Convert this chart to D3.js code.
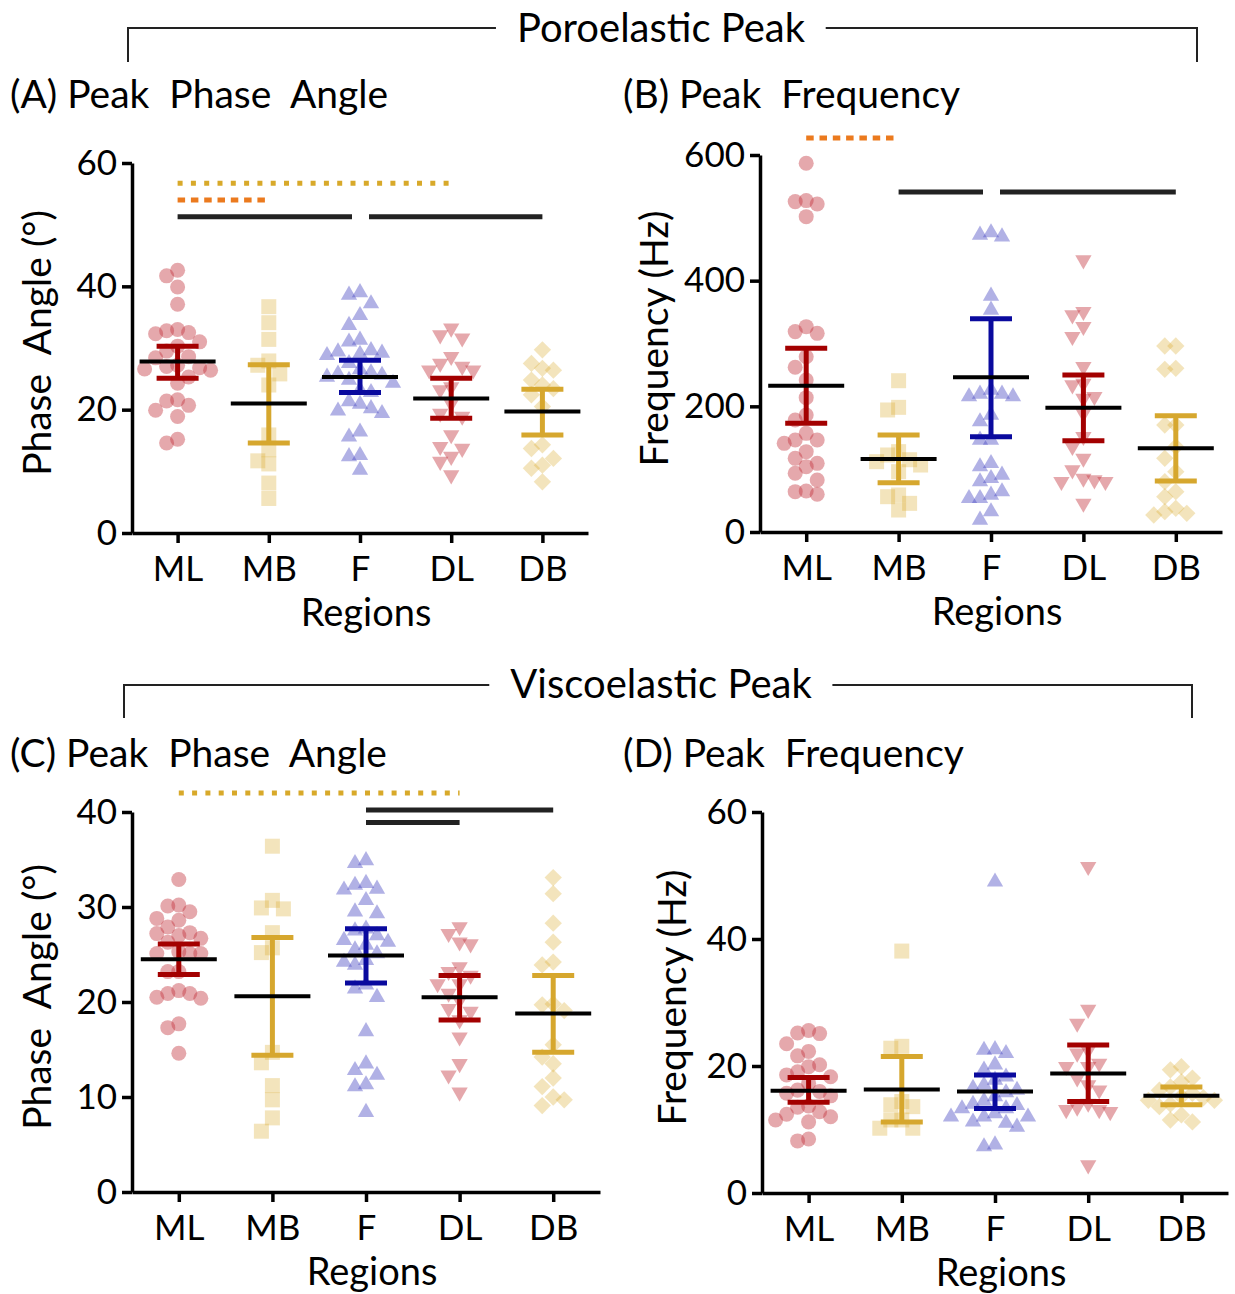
<!DOCTYPE html>
<html>
<head>
<meta charset="utf-8">
<script src="https://cdn.jsdelivr.net/npm/d3@7"></script>
<style>
  body { margin: 0; background: #fff; }
  svg { font-family: Lato, "Open Sans", sans-serif; }
  text.lbl { white-space: pre; }
</style>
</head>
<body>
<svg id="chart" width="1235" height="1294"></svg>
<script>
const regions = ["ML", "MB", "F", "DL", "DB"];

// (A) poroelastic peak, phase angle (deg), one array per region
const poroPhase = [
  [42.6, 41.7, 39.9, 37.1, 33.0, 32.8, 32.5, 32.3, 31.0, 30.3, 29.5, 28.6, 28.4, 27.2, 27.0, 26.8, 26.6, 26.4, 25.3, 24.3, 21.6, 21.4, 20.7, 19.9, 18.9, 15.2, 14.6],
  [36.7, 34.1, 31.4, 27.9, 27.2, 25.8, 24.0, 15.9, 13.5, 11.7, 11.2, 8.1, 5.6],
  [39.0, 38.6, 37.2, 35.3, 33.7, 31.3, 31.0, 29.6, 29.4, 29.2, 29.0, 28.8, 27.5, 26.5, 26.0, 25.8, 25.6, 25.3, 24.8, 24.3, 23.2, 22.8, 21.3, 20.9, 20.2, 19.8, 19.4, 16.4, 15.6, 12.6, 12.4, 10.2],
  [33.2, 32.1, 31.6, 28.6, 27.5, 27.0, 26.4, 26.4, 23.7, 23.2, 21.0, 19.4, 18.9, 15.9, 14.0, 13.7, 12.4, 11.6, 9.4],
  [29.7, 27.5, 26.7, 26.4, 24.8, 24.0, 23.4, 22.4, 20.5, 14.3, 13.7, 12.1, 11.0, 10.5, 8.3]
];
const poroPhaseMean = [27.8, 21.0, 25.3, 21.8, 19.7];
const poroPhaseLow = [25.1, 14.6, 22.8, 18.6, 15.9];
const poroPhaseHigh = [30.3, 27.3, 28.0, 25.1, 23.3];
const poroPhaseSig = [["ML", "DL", "gold", 56.7], ["ML", "MB", "orange", 54.0], ["ML", "F", "black", 51.3], ["F", "DB", "black", 51.3]];

// (B) poroelastic peak, frequency (Hz)
const poroFreq = [
  [586.8, 527.4, 525.8, 522.0, 501.9, 326.8, 318.9, 316.2, 279.0, 262.1, 241.9, 213.8, 186.2, 178.3, 157.0, 146.4, 146.4, 141.1, 127.9, 117.2, 109.3, 104.0, 93.4, 82.8, 65.3, 64.2, 60.0],
  [240.8, 198.4, 194.2, 127.9, 122.6, 115.0, 111.9, 106.6, 96.0, 58.9, 56.2, 45.6, 35.0],
  [476.4, 472.7, 470.0, 375.6, 353.3, 226.0, 219.6, 219.6, 215.4, 215.4, 186.2, 175.6, 146.4, 146.4, 109.3, 104.0, 90.7, 85.4, 80.1, 64.2, 58.9, 53.6, 53.6, 32.4, 19.1],
  [432.9, 350.7, 345.4, 326.8, 310.9, 263.2, 236.6, 234.0, 215.4, 212.7, 188.9, 151.7, 135.8, 117.2, 98.7, 85.4, 82.8, 80.1, 80.1, 45.6],
  [296.0, 296.0, 260.5, 258.9, 170.3, 170.3, 135.8, 117.2, 96.0, 80.1, 64.2, 56.2, 37.7, 32.4, 29.7, 27.1]
];
const poroFreqMean = [232.9, 116.2, 246.2, 197.9, 133.2];
const poroFreqLow = [173.0, 78.5, 151.7, 145.4, 81.2];
const poroFreqHigh = [292.4, 154.4, 339.5, 249.9, 185.2];
const poroFreqSig = [["ML", "MB", "orange", 627], ["MB", "F", "black", 541], ["F", "DB", "black", 541]];

// (C) viscoelastic peak, phase angle (deg)
const viscoPhase = [
  [32.9, 30.2, 30.1, 29.5, 28.8, 28.6, 27.9, 27.3, 27.2, 27.0, 26.7, 26.3, 25.3, 25.1, 25.1, 25.1, 23.2, 23.2, 21.2, 20.9, 20.9, 20.5, 20.4, 17.7, 17.3, 14.6],
  [36.4, 30.7, 29.9, 29.8, 27.3, 25.7, 25.2, 14.7, 13.6, 11.2, 9.7, 7.8, 6.4],
  [34.9, 34.6, 32.5, 32.3, 31.9, 31.8, 30.7, 29.5, 29.3, 27.7, 27.5, 27.0, 26.5, 26.3, 26.0, 25.5, 25.1, 24.4, 24.2, 23.9, 21.8, 21.4, 20.5, 16.9, 13.5, 12.8, 12.3, 11.3, 11.1, 8.4],
  [27.9, 27.2, 26.3, 26.1, 23.7, 23.2, 22.8, 21.9, 21.9, 20.9, 20.2, 19.3, 19.0, 18.1, 16.3, 13.5, 12.3, 10.5],
  [33.1, 31.4, 28.3, 26.3, 24.2, 23.9, 19.8, 19.7, 19.1, 15.5, 14.2, 13.5, 12.0, 11.1, 10.0, 9.7, 9.1]
];
const viscoPhaseMean = [24.5, 20.6, 24.9, 20.5, 18.8];
const viscoPhaseLow = [22.9, 14.4, 22.0, 18.1, 14.7];
const viscoPhaseHigh = [26.1, 26.8, 27.7, 22.8, 22.8];
const viscoPhaseSig = [["ML", "DL", "gold", 42.0], ["F", "DB", "black", 40.2], ["F", "DL", "black", 38.9]];

// (D) viscoelastic peak, frequency (Hz)
const viscoFreq = [
  [25.6, 25.2, 25.1, 23.5, 22.3, 21.6, 20.2, 19.9, 19.1, 18.6, 18.3, 17.3, 16.2, 16.0, 15.7, 15.3, 13.7, 13.5, 12.8, 12.4, 12.0, 11.5, 11.2, 8.5, 8.2],
  [38.1, 23.1, 22.8, 14.4, 13.9, 13.6, 11.5, 11.5, 10.2, 10.2],
  [49.0, 22.6, 22.5, 22.0, 20.2, 19.4, 18.3, 17.8, 17.0, 16.5, 16.2, 15.8, 15.2, 14.5, 14.0, 13.8, 13.3, 13.3, 12.5, 12.0, 12.0, 12.0, 11.2, 11.0, 10.4, 7.6, 7.3],
  [51.4, 28.9, 26.7, 22.5, 22.0, 20.4, 19.9, 19.9, 18.1, 17.0, 16.2, 14.1, 13.5, 13.1, 13.1, 12.8, 4.4],
  [19.9, 19.4, 18.1, 17.5, 16.7, 16.2, 15.7, 15.2, 15.0, 14.6, 14.6, 14.0, 13.6, 12.3, 11.5, 11.2]
];
const viscoFreqMean = [16.1, 16.3, 16.0, 18.8, 15.3];
const viscoFreqLow = [14.3, 11.2, 13.3, 14.4, 13.9];
const viscoFreqHigh = [18.2, 21.5, 18.6, 23.3, 16.7];
const viscoFreqSig = [];

// styling per region
const pointColor = ["#c0303a", "#d9ab2f", "#4545c2", "#c0303a", "#d9ab2f"];
const pointAlpha = [0.42, 0.32, 0.42, 0.42, 0.32];
const barColor = ["#a30000", "#d6a72e", "#0a0a9e", "#a30000", "#d6a72e"];
const shapes = [
  { type: d3.symbolCircle, size: 177, rot: 0 },
  { type: d3.symbolSquare, size: 225, rot: 0 },
  { type: d3.symbolTriangle, size: 115, rot: 0 },
  { type: d3.symbolTriangle, size: 115, rot: 180 },
  { type: d3.symbolSquare, size: 150, rot: 45 }
];
const sigStyle = {
  gold: { color: "#d8a92a", dash: "5,8.3" },
  orange: { color: "#eb7a1e", dash: "7.5,5.8" },
  black: { color: "#222", dash: null }
};

const TICK_FONT = 35;
const LABEL_FONT = 39;
const svg = d3.select("#chart");

const panels = [
  { title: "(A) Peak  Phase  Angle", yLabel: "Phase  Angle (°)", vals: poroPhase, mean: poroPhaseMean, lo: poroPhaseLow, hi: poroPhaseHigh, sig: poroPhaseSig,
    max: 60, ticks: [0, 20, 40, 60], xr: [132, 588], yr: [533, 163], titleX: 10, titleY: 108, yLabX: 51 },
  { title: "(B) Peak  Frequency", yLabel: "Frequency (Hz)", vals: poroFreq, mean: poroFreqMean, lo: poroFreqLow, hi: poroFreqHigh, sig: poroFreqSig,
    max: 600, ticks: [0, 200, 400, 600], xr: [760, 1222], yr: [532, 155], titleX: 623, titleY: 108, yLabX: 668 },
  { title: "(C) Peak  Phase  Angle", yLabel: "Phase  Angle (°)", vals: viscoPhase, mean: viscoPhaseMean, lo: viscoPhaseLow, hi: viscoPhaseHigh, sig: viscoPhaseSig,
    max: 40, ticks: [0, 10, 20, 30, 40], xr: [132, 600], yr: [1192, 812], titleX: 10, titleY: 767, yLabX: 51 },
  { title: "(D) Peak  Frequency", yLabel: "Frequency (Hz)", vals: viscoFreq, mean: viscoFreqMean, lo: viscoFreqLow, hi: viscoFreqHigh, sig: viscoFreqSig,
    max: 60, ticks: [0, 20, 40, 60], xr: [762, 1228], yr: [1193, 812], titleX: 623, titleY: 767, yLabX: 686 }
];

// simple beeswarm: points sorted top to bottom, each goes to the closest free column
function swarm(values, y, step, gap) {
  let placed = [];
  values.map(v => ({ v, y: y(v) }))
    .sort((a, b) => a.y - b.y)
    .forEach(p => {
      for (let k = 0; k < 40; k++) {
        let off = (k % 2 ? -1 : 1) * Math.ceil(k / 2) * step;
        let hit = placed.some(q => Math.abs(q.dx - off) < step / 2 && Math.abs(q.y - p.y) < gap);
        if (!hit) { p.dx = off; placed.push(p); break; }
      }
    });
  return placed;
}

function styleAxis(g) {
  g.select(".domain").attr("stroke", "#000").attr("stroke-width", 3.5);
  g.selectAll(".tick line").attr("stroke", "#000").attr("stroke-width", 3.5);
  g.selectAll(".tick text").attr("fill", "#000");
  g.attr("font-size", TICK_FONT).attr("font-family", null);
}

function drawPanel(p) {
  let x = d3.scalePoint().domain(regions).range(p.xr).padding(0.5);
  let y = d3.scaleLinear().domain([0, p.max]).range(p.yr);
  let g = svg.append("g");

  // points
  p.vals.forEach((vals, i) => {
    let pts = swarm(vals, y, 11, 14);
    let sym = d3.symbol().type(shapes[i].type).size(shapes[i].size);
    g.append("g").selectAll("path")
      .data(pts)
      .join("path")
      .attr("d", sym)
      .attr("transform", d => `translate(${x(regions[i]) + d.dx},${d.y}) rotate(${shapes[i].rot})`)
      .attr("fill", pointColor[i])
      .attr("fill-opacity", pointAlpha[i]);
  });

  // 95% CI bars and mean line
  regions.forEach((r, i) => {
    let cx = x(r);
    let eb = g.append("g").attr("stroke", barColor[i]).attr("stroke-width", 5);
    eb.append("line").attr("x1", cx).attr("x2", cx).attr("y1", y(p.lo[i])).attr("y2", y(p.hi[i]));
    eb.append("line").attr("x1", cx - 21).attr("x2", cx + 21).attr("y1", y(p.lo[i])).attr("y2", y(p.lo[i]));
    eb.append("line").attr("x1", cx - 21).attr("x2", cx + 21).attr("y1", y(p.hi[i])).attr("y2", y(p.hi[i]));
    g.append("line")
      .attr("x1", cx - 38).attr("x2", cx + 38)
      .attr("y1", y(p.mean[i])).attr("y2", y(p.mean[i]))
      .attr("stroke", "#000").attr("stroke-width", 4);
  });

  // significance bars
  p.sig.forEach(s => {
    let x1 = x(s[0]), x2 = x(s[1]);
    // leave a small gap where two bars meet at the same height
    let meetsEnd = p.sig.some(o => o !== s && o[3] === s[3] && o[0] === s[1]);
    let meetsStart = p.sig.some(o => o !== s && o[3] === s[3] && o[1] === s[0]);
    if (meetsEnd) x2 -= 8;
    if (meetsStart) x1 += 9;
    let st = sigStyle[s[2]];
    g.append("line")
      .attr("x1", x1).attr("x2", x2)
      .attr("y1", y(s[3])).attr("y2", y(s[3]))
      .attr("stroke", st.color).attr("stroke-width", 5)
      .attr("stroke-dasharray", st.dash);
  });

  // axes
  g.append("g")
    .attr("transform", `translate(${p.xr[0]},0)`)
    .call(d3.axisLeft(y).tickValues(p.ticks).tickSize(10).tickSizeOuter(0).tickPadding(5))
    .call(styleAxis);
  g.append("g")
    .attr("transform", `translate(0,${p.yr[0]})`)
    .call(d3.axisBottom(x).tickSize(10).tickSizeOuter(0).tickPadding(13))
    .call(styleAxis);

  // labels
  g.append("text").attr("class", "lbl")
    .attr("x", p.titleX).attr("y", p.titleY)
    .attr("font-size", LABEL_FONT)
    .text(p.title);
  g.append("text").attr("class", "lbl")
    .attr("transform", `translate(${p.yLabX},${(p.yr[0] + p.yr[1]) / 2 - 5}) rotate(-90)`)
    .attr("text-anchor", "middle").attr("font-size", LABEL_FONT)
    .text(p.yLabel);
  g.append("text")
    .attr("x", (p.xr[0] + p.xr[1]) / 2 + 6).attr("y", p.yr[0] + 93)
    .attr("text-anchor", "middle").attr("font-size", LABEL_FONT - 1)
    .text("Regions");
}

function drawHeader(label, cx, baseY, lineY, left, right, drop) {
  let t = svg.append("text")
    .attr("x", cx).attr("y", baseY)
    .attr("text-anchor", "middle").attr("font-size", LABEL_FONT + 1)
    .text(label);
  let b = t.node().getBBox();
  let path = `M${left},${lineY + drop}V${lineY}H${b.x - 21}M${b.x + b.width + 20},${lineY}H${right}V${lineY + drop}`;
  svg.append("path").attr("d", path).attr("fill", "none").attr("stroke", "#222").attr("stroke-width", 2);
}

drawHeader("Poroelastic Peak", 661, 42, 28, 128, 1197, 34);
drawHeader("Viscoelastic Peak", 661, 698, 685, 124, 1192, 33);
panels.forEach(drawPanel);
</script>
</body>
</html>
